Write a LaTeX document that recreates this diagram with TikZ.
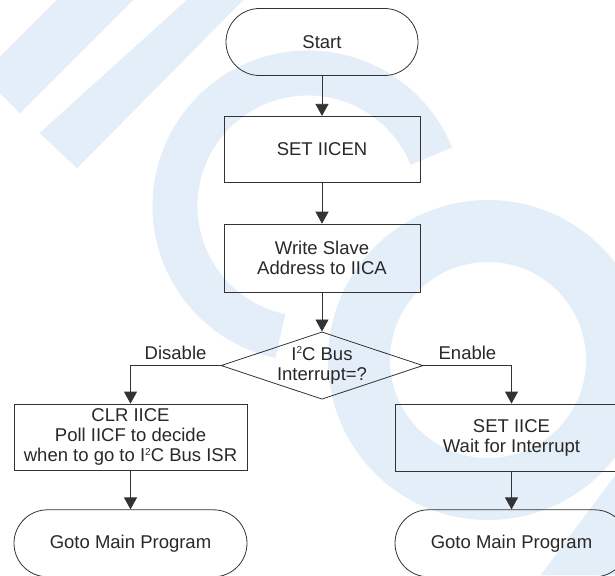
\documentclass[tikz,border=0pt]{standalone}
\usepackage{fontspec}
\setmainfont{Liberation Sans}
\usetikzlibrary{arrows.meta, positioning, shapes.geometric, backgrounds}
\definecolor{cline}{RGB}{51, 51, 51}
\definecolor{ctext}{RGB}{40, 40, 40}
\definecolor{cmark}{RGB}{227, 238, 248}
\newcommand{\suptwo}{\raisebox{6.5pt}{\fontsize{10}{10}\selectfont 2}}
\tikzset{
  box/.style={draw=cline, line width=0.8pt, align=center, inner sep=2pt,
              text=ctext, font=\fontsize{18.5}{20}\selectfont},
  term/.style={box, rounded corners=33.5pt, minimum height=67pt},
  decide/.style={box, diamond, aspect=3, inner sep=0pt,
                 minimum width=198pt, minimum height=65pt},
  arr/.style={-{Triangle[length=12pt, width=13pt]}, line width=0.8pt, draw=cline},
  lab/.style={font=\fontsize{18.5}{20}\selectfont, text=ctext, inner sep=5pt},
  wm/.style={draw=cmark, fill=cmark},
  wmring/.style={draw=cmark},
}
\begin{document}
\begin{tikzpicture}[x=1pt, y=-1pt]
\useasboundingbox (0,0) rectangle (615,575);

% ---------- 主干：初始化 ----------
\node[term, minimum width=192pt] (start) at (322,42) {Start};
\node[box, minimum width=196pt, minimum height=66pt, below=40pt of start] (iicen) {SET IICEN};
\node[box, minimum width=196pt, minimum height=68pt, below=41pt of iicen] (addr)
  {Write Slave\\ Address to IICA};
\node[decide, below=39pt of addr] (bus) {I\suptwo C Bus\\ Interrupt=?};

% ---------- 两个分支 ----------
\node[box, minimum width=233pt, minimum height=66pt] (clr) at (130.5,437)
  {CLR IICE\\ Poll IICF to decide\\ when to go to I\suptwo C Bus ISR};
\node[box, minimum width=233pt, minimum height=67pt] (seti) at (511.5,437.5)
  {SET IICE\\ Wait for Interrupt};
\node[term, minimum width=233pt, below=39pt of clr] (gol) {Goto Main Program};
\node[term, minimum width=233pt, below=38pt of seti] (gor) {Goto Main Program};

\draw[arr] (start) -- (iicen);
\draw[arr] (iicen) -- (addr);
\draw[arr] (addr) -- (bus);
\draw[arr] (bus.west) -| node[lab, pos=0.25, above] (dis) {Disable} (clr.north);
\draw[arr] (bus.east) -| node[lab, pos=0.25, above] (ena) {Enable} (seti.north);
\draw[arr] (clr) -- (gol);
\draw[arr] (seti) -- (gor);

% ---------- 水印 ----------
\begin{scope}[on background layer]
  \fill[wm] (57,0) -- (133,0) -- (20,113) -- (0,93) -- (0,57) -- cycle;
  \fill[wm] (187,0) -- (243,0) -- (77,168) -- (40,133) -- cycle;
  \draw[wmring, line width=45pt] (308,206) ++(-22:133) arc[start angle=-22, end angle=-258, radius=133];
  \draw[wmring, line width=62pt] (488,360) circle[radius=129];
  \fill[wm] (541,575) -- (615,476) -- (615,575) -- cycle;
\end{scope}

\end{tikzpicture}
\end{document}
